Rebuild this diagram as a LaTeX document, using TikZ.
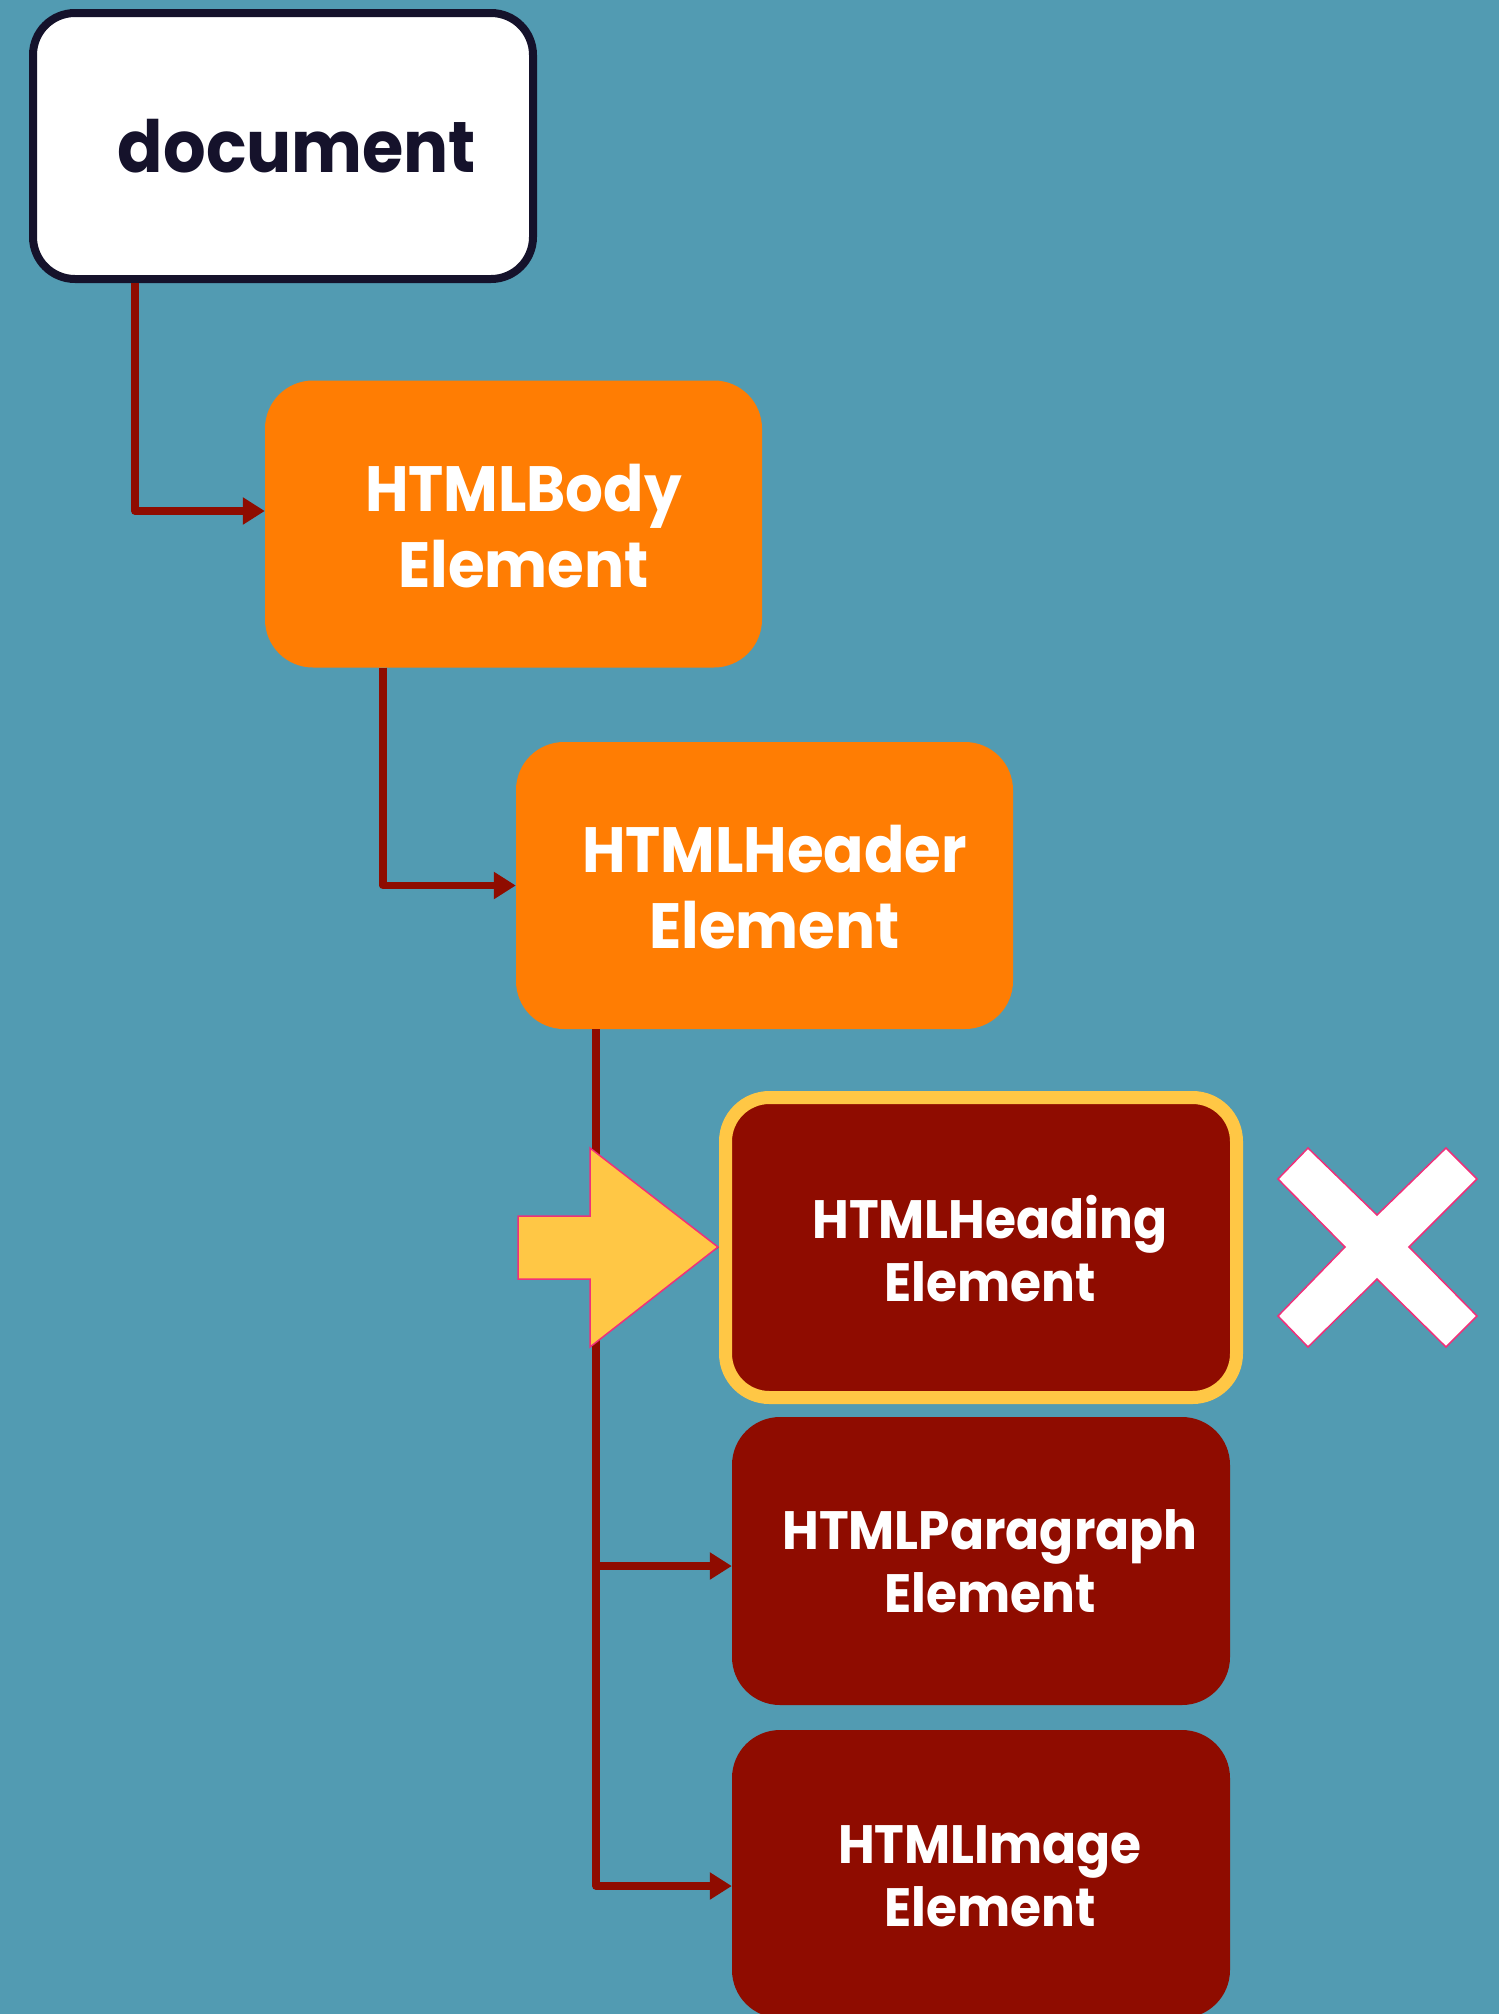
\documentclass[tikz,border=0pt]{standalone}
\usepackage{fontspec}
\newfontfamily\pop{Poppins}[FakeStretch=0.93]
\usetikzlibrary{arrows.meta}
\definecolor{bg}{RGB}{82,155,178}
\definecolor{orng}{RGB}{255,125,3}
\definecolor{dred}{RGB}{143,12,0}
\definecolor{ylw}{RGB}{255,199,69}
\definecolor{navy}{RGB}{21,18,43}
\definecolor{pinkline}{RGB}{240,48,122}
\tikzset{
  box/.style={rectangle, rounded corners=48pt, inner sep=0pt, minimum width=497pt, minimum height=287pt},
  docbox/.style={rectangle, rounded corners=42pt, inner sep=0pt, fill=white, draw=navy, line width=8pt, minimum width=500pt, minimum height=266pt},
  orangebox/.style={box, fill=orng},
  redbox/.style={box, fill=dred, minimum width=498pt, minimum height=288pt},
  hlbox/.style={box, rounded corners=44pt, fill=dred, draw=ylw, line width=13pt, minimum width=511pt, minimum height=300pt},
  bigtxt/.style={text=white, align=center, inner sep=0pt, font=\pop\bfseries\fontsize{64}{76}\selectfont},
  smalltxt/.style={text=white, align=center, inner sep=0pt, font=\pop\bfseries\fontsize{54}{63}\selectfont},
  doctxt/.style={text=navy, inner sep=0pt, font=\pop\bfseries\fontsize{72}{80}\selectfont},
  conn/.style={draw=dred, line width=7.5pt, line join=round, -{Triangle[length=22pt,width=26pt]}},
  pointer/.style={fill=ylw, draw=pinkline, line width=1.5pt},
  cross/.style={fill=white, draw=pinkline, line width=1.5pt},
}
\begin{document}
\begin{tikzpicture}[x=1pt,y=-1pt]
\useasboundingbox (0,0) rectangle (1499,2014);
\fill[bg] (0,0) rectangle (1499,2014);
\clip (0,0) rectangle (1499,2014);

% boxes
\node[docbox] (doc) at (283,146) {};
\node[orangebox] (body) at (513.5,524) {};
\node[orangebox] (header) at (764.5,885.5) {};
\node[hlbox] (heading) at (981,1247.5) {};
\node[redbox] (para) at (981,1561) {};
\node[redbox] (img) at (981,1874) {};

% connectors
\draw[conn] ([xshift=-148pt]doc.south) |- ([yshift=13pt]body.west);
\draw[conn] ([xshift=-130.5pt]body.south) |- (header.west);
\draw[conn] ([xshift=-168.5pt]header.south) |- (heading.west);
\draw[conn] ([xshift=-168.5pt]header.south) |- ([yshift=-5pt]para.west);
\draw[conn] ([xshift=-168.5pt]header.south) |- ([yshift=-12pt]img.west);

% texts
\node[doctxt] (doct) at ([xshift=14pt]doc.center) {document};
\node[bigtxt] (bodyt) at ([xshift=10pt,yshift=-2pt]body.center) {HTMLBody\\Element};
\node[bigtxt] (headert) at ([xshift=10pt,yshift=-2pt]header.center) {HTMLHeader\\Element};
\node[smalltxt] (headingt) at ([xshift=9pt,yshift=-1pt]heading.center) {HTMLHeading\\Element};
\node[smalltxt] (parat) at ([xshift=9pt]para.center) {HTMLParagraph\\Element};
\node[smalltxt] (imgt) at ([xshift=9pt,yshift=-2pt]img.center) {HTMLImage\\Element};

% yellow pointer arrow
\path[pointer] (518,1216) -- (590,1216) -- (590,1148) -- (718,1247) -- (590,1347) -- (590,1279) -- (518,1279) -- cycle;

% white cross
\path[cross] (1308,1148) -- (1377,1215) -- (1446,1148) -- (1477,1179) -- (1409,1247) -- (1477,1316) -- (1446,1347) -- (1377,1279) -- (1308,1347) -- (1278,1316) -- (1345,1247) -- (1278,1179) -- cycle;
\end{tikzpicture}
\end{document}
